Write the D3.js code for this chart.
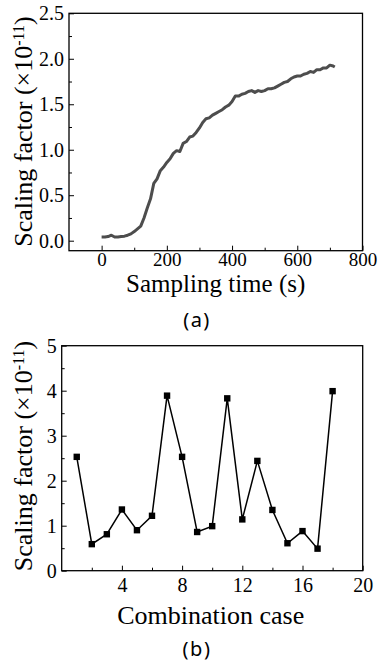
<!DOCTYPE html>
<html>
<head>
<meta charset="utf-8">
<script src="https://cdn.jsdelivr.net/npm/d3@7"></script>
<style>
  body { margin: 0; background: #fff; }
  svg text { font-family: "Liberation Serif", "Times New Roman", serif; fill: #000; }
  .axis text { font-size: 20px; }
  .axis path.domain { display: none; }
  .axis line { stroke: #000; stroke-width: 1; }
  svg text.caption { font-family: "Noto Sans", sans-serif; }
</style>
</head>
<body>
<script>
//Chart (a): sampling time (s) vs scaling factor
const timeA = [0, 10, 20, 30, 40, 50, 60, 70, 80, 90, 100, 110, 120, 130, 140, 150, 160, 170, 180, 190,
  200, 210, 220, 230, 240, 250, 260, 270, 280, 290, 300, 310, 320, 330, 340, 350, 360, 370, 380, 390,
  400, 410, 420, 430, 440, 450, 460, 470, 480, 490, 500, 510, 520, 530, 540, 550, 560, 570, 580, 590,
  600, 610, 620, 630, 640, 650, 660, 670, 680, 690, 700, 710, 715];
const factorA = [0.04, 0.04, 0.045, 0.06, 0.04, 0.04, 0.045, 0.05, 0.06, 0.075, 0.10, 0.13, 0.16, 0.25, 0.36, 0.46, 0.63, 0.68, 0.77, 0.81,
  0.86, 0.90, 0.96, 0.99, 0.98, 1.07, 1.09, 1.14, 1.15, 1.19, 1.24, 1.30, 1.34, 1.35, 1.38, 1.40, 1.42, 1.44, 1.47, 1.49,
  1.53, 1.59, 1.59, 1.61, 1.62, 1.64, 1.65, 1.63, 1.65, 1.64, 1.65, 1.67, 1.67, 1.68, 1.70, 1.72, 1.74, 1.75, 1.78, 1.80,
  1.81, 1.81, 1.83, 1.84, 1.86, 1.85, 1.88, 1.88, 1.90, 1.90, 1.93, 1.92, 1.91];

//Chart (b): combination case vs scaling factor
const caseB = [1, 2, 3, 4, 5, 6, 7, 8, 9, 10, 11, 12, 13, 14, 15, 16, 17, 18];
const factorB = [2.53, 0.59, 0.81, 1.36, 0.90, 1.22, 3.89, 2.53, 0.86, 0.99, 3.83, 1.14, 2.44, 1.35, 0.61, 0.88, 0.49, 3.99];

// tick values
const xTicksA = [0, 200, 400, 600, 800];
const xMinorA = [100, 300, 500, 700];
const yTicksA = [0, 0.5, 1.0, 1.5, 2.0, 2.5];
const yMinorA = [0.25, 0.75, 1.25, 1.75, 2.25];
const xTicksB = [4, 8, 12, 16, 20];
const xMinorB = [2, 6, 10, 14, 18];
const yTicksB = [0, 1, 2, 3, 4, 5];
const yMinorB = [0.5, 1.5, 2.5, 3.5, 4.5];

const w = 383;
const h = 663;

const svg = d3.select("body")
  .append("svg")
    .attr("width", w)
    .attr("height", h);

// draws frame, inward ticks and labels, returns the scales
function drawFrame(box, xDomain, yDomain, xt, xm, yt, ym, yFmt, xPad, xSize) {
  const xScale = d3.scaleLinear().domain(xDomain).range([box.left, box.right]);
  const yScale = d3.scaleLinear().domain(yDomain).range([box.bottom, box.top]);

  const axes = [
    [d3.axisBottom(xScale).tickValues(xt).tickSize(-5).tickPadding(xPad).tickFormat(d3.format("d")), `translate(0, ${box.bottom})`, xSize],
    [d3.axisBottom(xScale).tickValues(xm).tickSize(-3).tickFormat(""), `translate(0, ${box.bottom})`, xSize],
    [d3.axisLeft(yScale).tickValues(yt).tickSize(-5).tickPadding(5).tickFormat(yFmt), `translate(${box.left}, 0)`, 20],
    [d3.axisLeft(yScale).tickValues(ym).tickSize(-3).tickFormat(""), `translate(${box.left}, 0)`, 20]
  ];
  axes.forEach(([ax, tr, fs]) => {
    svg.append("g")
      .attr("class", "axis")
      .attr("transform", tr)
      .call(ax)
      .attr("font-family", null)
      .attr("font-size", null)
      .call(g => g.selectAll("text").style("font-size", fs + "px"));
  });

  svg.append("rect")
    .attr("x", box.left)
    .attr("y", box.top)
    .attr("width", box.right - box.left)
    .attr("height", box.bottom - box.top)
    .attr("fill", "none")
    .attr("stroke", "#000")
    .attr("stroke-width", 1.3);

  return [xScale, yScale];
}

function yTitle(cx, cy) {
  const t = svg.append("text")
    .attr("transform", `translate(${cx}, ${cy}) rotate(-90)`)
    .attr("text-anchor", "middle")
    .style("font-size", "26px");
  t.append("tspan").text("Scaling factor (\u00d710");
  t.append("tspan").attr("baseline-shift", "super").style("font-size", "16px").text("-11");
  t.append("tspan").text(")");
}

// ---- chart (a)
const boxA = { left: 69, right: 362.5, top: 13.3, bottom: 250.7 };
const [xA, yA] = drawFrame(boxA, [-100, 800], [-0.11, 2.5], xTicksA, xMinorA, yTicksA, yMinorA, d3.format(".1f"), 2, 19);

const lineA = d3.line()
  .x((d, i) => xA(timeA[i]))
  .y(d => yA(d));

svg.append("path")
  .datum(factorA)
  .attr("d", lineA)
  .attr("fill", "none")
  .attr("stroke", "#4d4d4d")
  .attr("stroke-width", 3)
  .attr("stroke-linejoin", "round");

yTitle(32, 131.5);

svg.append("text")
  .attr("x", 215.7)
  .attr("y", 292)
  .attr("text-anchor", "middle")
  .style("font-size", "25px")
  .text("Sampling time (s)");

svg.append("text")
  .attr("class", "caption")
  .attr("x", 197)
  .attr("y", 327)
  .attr("text-anchor", "middle")
  .style("font-size", "20px")
  .style("letter-spacing", "1.5px")
  .text("(a)");

// ---- chart (b)
const boxB = { left: 61.7, right: 362.7, top: 345.7, bottom: 570.7 };
const [xB, yB] = drawFrame(boxB, [0, 20], [0, 5], xTicksB, xMinorB, yTicksB, yMinorB, d3.format("d"), 7, 20);

const lineB = d3.line()
  .x((d, i) => xB(caseB[i]))
  .y(d => yB(d));

svg.append("path")
  .datum(factorB)
  .attr("d", lineB)
  .attr("fill", "none")
  .attr("stroke", "#000")
  .attr("stroke-width", 1.5);

svg.selectAll("rect.pt")
  .data(factorB)
  .enter()
  .append("rect")
    .attr("class", "pt")
    .attr("x", (d, i) => xB(caseB[i]) - 3.2)
    .attr("y", d => yB(d) - 3.2)
    .attr("width", 6.4)
    .attr("height", 6.4)
    .attr("fill", "#000");

yTitle(32, 456);

svg.append("text")
  .attr("x", 210.7)
  .attr("y", 624)
  .attr("text-anchor", "middle")
  .style("font-size", "26px")
  .text("Combination case");

svg.append("text")
  .attr("class", "caption")
  .attr("x", 197)
  .attr("y", 656)
  .attr("text-anchor", "middle")
  .style("font-size", "20px")
  .style("letter-spacing", "1.5px")
  .text("(b)");
</script>
</body>
</html>
